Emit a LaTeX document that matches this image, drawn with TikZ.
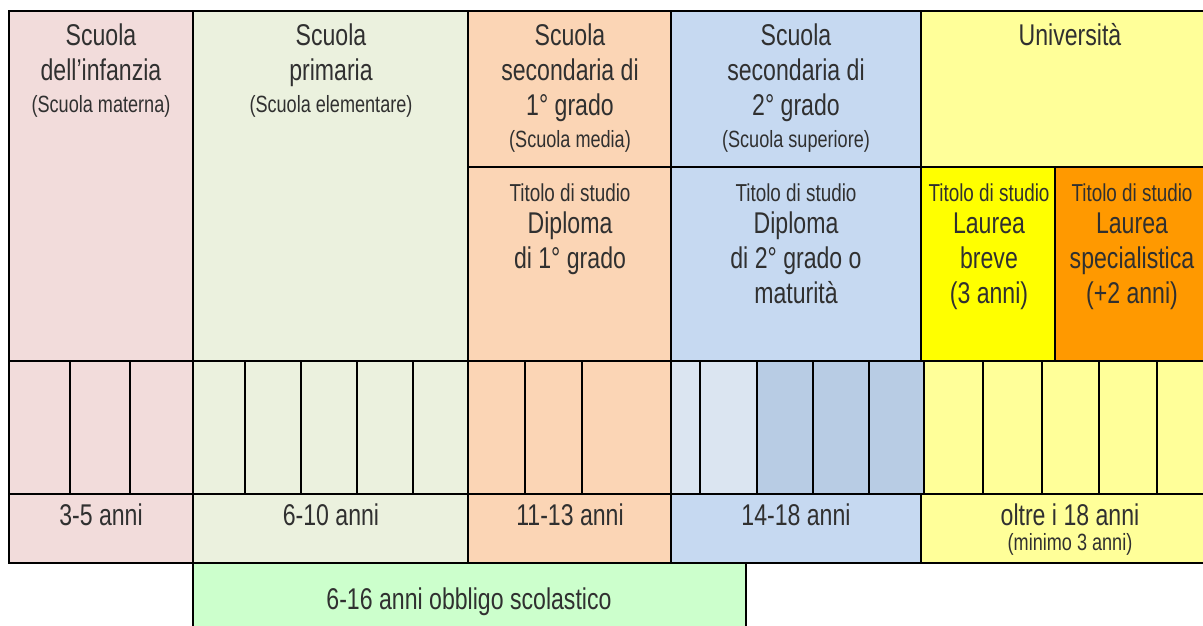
\documentclass[tikz,border=0pt]{standalone}
\usepackage{fontspec}
\setmainfont[FakeStretch=0.77]{Liberation Sans}
\definecolor{txt}{HTML}{303030}
\definecolor{cInf}{HTML}{F2DCDB}
\definecolor{cPri}{HTML}{EBF1DE}
\definecolor{cMed}{HTML}{FBD5B5}
\definecolor{cSup}{HTML}{C6D9F1}
\definecolor{cSupL}{HTML}{DBE5F1}
\definecolor{cSupD}{HTML}{B8CCE4}
\definecolor{cUni}{HTML}{FFFF99}
\definecolor{cBreve}{HTML}{FFFF00}
\definecolor{cSpec}{HTML}{FF9900}
\definecolor{cGreen}{HTML}{CCFFCC}
\begin{document}
\begin{tikzpicture}[x=1pt,y=-1pt,line width=1.7pt,
  big/.style={anchor=base,inner sep=0pt,text=txt,font=\fontsize{30}{32}\selectfont},
  small/.style={anchor=base,inner sep=0pt,text=txt,font=\fontsize{23.5}{25}\selectfont},
  tit/.style={anchor=base,inner sep=0pt,text=txt,font=\fontsize{24.5}{26}\selectfont}]
\useasboundingbox (0,0) rectangle (1203,626);
\clip (0,0) rectangle (1203,626);
% header cells
\filldraw[fill=cInf] (9,11) rectangle (193,361);
\filldraw[fill=cPri] (193,11) rectangle (468,361);
\filldraw[fill=cMed] (468,11) rectangle (671,167);
\filldraw[fill=cMed] (468,167) rectangle (671,361);
\filldraw[fill=cSup] (671,11) rectangle (921,167);
\filldraw[fill=cSup] (671,167) rectangle (921,361);
\filldraw[fill=cUni] (921,11) rectangle (1230,167);
\filldraw[fill=cBreve] (921,167) rectangle (1055,361);
\filldraw[fill=cSpec] (1055,167) rectangle (1230,361);
% year cells
\foreach \a/\b in {9/70,70/130,130/193}
  \filldraw[fill=cInf] (\a,361) rectangle (\b,494);
\foreach \a/\b in {193/245,245/301,301/357,357/413,413/468}
  \filldraw[fill=cPri] (\a,361) rectangle (\b,494);
\foreach \a/\b in {468/525,525/582,582/671}
  \filldraw[fill=cMed] (\a,361) rectangle (\b,494);
\foreach \a/\b in {671/700,700/757}
  \filldraw[fill=cSupL] (\a,361) rectangle (\b,494);
\foreach \a/\b in {757/813,813/869,869/924}
  \filldraw[fill=cSupD] (\a,361) rectangle (\b,494);
\foreach \a/\b in {924/983,983/1042,1042/1099,1099/1157,1157/1230}
  \filldraw[fill=cUni] (\a,361) rectangle (\b,494);
% age row
\filldraw[fill=cInf] (9,494) rectangle (193,563);
\filldraw[fill=cPri] (193,494) rectangle (468,563);
\filldraw[fill=cMed] (468,494) rectangle (671,563);
\filldraw[fill=cSup] (671,494) rectangle (921,563);
\filldraw[fill=cUni] (921,494) rectangle (1230,563);
% compulsory school
\filldraw[fill=cGreen] (193,563) rectangle (746,640);
% texts: infanzia
\node[big] (inf1) at (101,46) {Scuola};
\node[big] (inf2) at (101,81) {dell’infanzia};
\node[small] (inf3) at (101,112) {(Scuola materna)};
% primaria
\node[big] (pri1) at (331,46) {Scuola};
\node[big] (pri2) at (331,81) {primaria};
\node[small] (pri3) at (331,112) {(Scuola elementare)};
% media
\node[big] (med1) at (570,46) {Scuola};
\node[big] (med2) at (570,81) {secondaria di};
\node[big] (med3) at (570,116) {1° grado};
\node[small] (med4) at (570,147) {(Scuola media)};
\node[tit] (med5) at (570,201) {Titolo di studio};
\node[big] (med6) at (570,233) {Diploma};
\node[big] (med7) at (570,268) {di 1° grado};
% superiore
\node[big] (sup1) at (796,46) {Scuola};
\node[big] (sup2) at (796,81) {secondaria di};
\node[big] (sup3) at (796,116) {2° grado};
\node[small] (sup4) at (796,147) {(Scuola superiore)};
\node[tit] (sup5) at (796,201) {Titolo di studio};
\node[big] (sup6) at (796,233) {Diploma};
\node[big] (sup7) at (796,268) {di 2° grado o};
\node[big] (sup8) at (796,303) {maturità};
% universita
\node[big] (uni1) at (1070,46) {Università};
\node[tit] (br1) at (989,201) {Titolo di studio};
\node[big] (br2) at (989,233) {Laurea};
\node[big] (br3) at (989,268) {breve};
\node[big] (br4) at (989,303) {(3 anni)};
\node[tit] (sp1) at (1132,201) {Titolo di studio};
\node[big] (sp2) at (1132,233) {Laurea};
\node[big] (sp3) at (1132,268) {specialistica};
\node[big] (sp4) at (1132,303) {(+2 anni)};
% ages
\node[big] (a1) at (101,525) {3-5 anni};
\node[big] (a2) at (331,525) {6-10 anni};
\node[big] (a3) at (570,525) {11-13 anni};
\node[big] (a4) at (796,525) {14-18 anni};
\node[big] (a5) at (1070,525) {oltre i 18 anni};
\node[small] (a6) at (1070,550) {(minimo 3 anni)};
\node[big] (obb) at (469,609) {6-16 anni obbligo scolastico};
\end{tikzpicture}
\end{document}
